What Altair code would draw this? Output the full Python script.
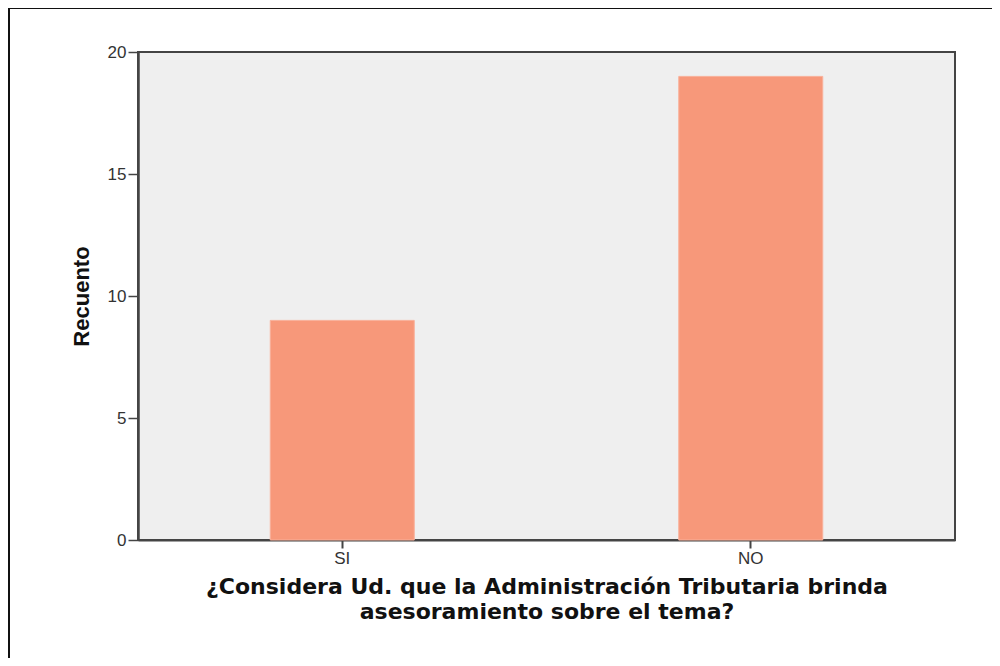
import altair as alt
import pandas as pd

categories = ["SI", "NO"]
counts = [9, 19]
y_ticks = [0, 5, 10, 15, 20]

df = pd.DataFrame({"respuesta": categories, "recuento": counts})

x_title = ["¿Considera Ud. que la Administración Tributaria brinda",
           "asesoramiento sobre el tema?"]

bars = alt.Chart(df).mark_bar(size=144, color="#F7987A", stroke="#F9B09A", strokeWidth=1).encode(
    x=alt.X("respuesta:N", sort=categories,
            scale=alt.Scale(paddingInner=0, paddingOuter=0),
            axis=alt.Axis(title=x_title, labelAngle=0, labelFontSize=17,
                          labelColor="#333333", labelFont="Liberation Sans",
                          tickSize=8, tickColor="#444444", tickWidth=2,
                          domainColor="#444444", domainWidth=2,
                          titleFont="DejaVu Sans", titleFontSize=22,
                          titleFontWeight="bold", titleColor="#111111",
                          titlePadding=10, titleLineHeight=25, labelPadding=2)),
    y=alt.Y("recuento:Q", scale=alt.Scale(domain=[0, 20], nice=False),
            axis=alt.Axis(title="Recuento", values=y_ticks, grid=False,
                          labelFontSize=17, labelColor="#333333",
                          labelFont="Liberation Sans",
                          tickSize=10, tickColor="#444444", tickWidth=1.5,
                          domainColor="#444444", domainWidth=2.5,
                          titleFont="Liberation Sans", titleFontSize=22,
                          titleFontWeight="bold", titleColor="#111111",
                          titlePadding=14, labelPadding=2)),
)

frame_left = alt.Chart(df).mark_rule(color="#111111", strokeWidth=2).encode(
    x=alt.value(-129), y=alt.value(-44), y2=alt.value(700))
frame_top = alt.Chart(df).mark_rule(color="#111111", strokeWidth=2).encode(
    x=alt.value(-129), x2=alt.value(900), y=alt.value(-44))

chart = alt.layer(bars, frame_left, frame_top).properties(
    width=817, height=488,
    padding={"left": 130, "top": 44, "right": 37, "bottom": 118},
    autosize=alt.AutoSizeParams(type="none"),
).configure_view(fill="#EFEFEF", stroke="#444444", strokeWidth=2)

chart.save("out.html", embed_options={"renderer": "svg", "actions": False})
